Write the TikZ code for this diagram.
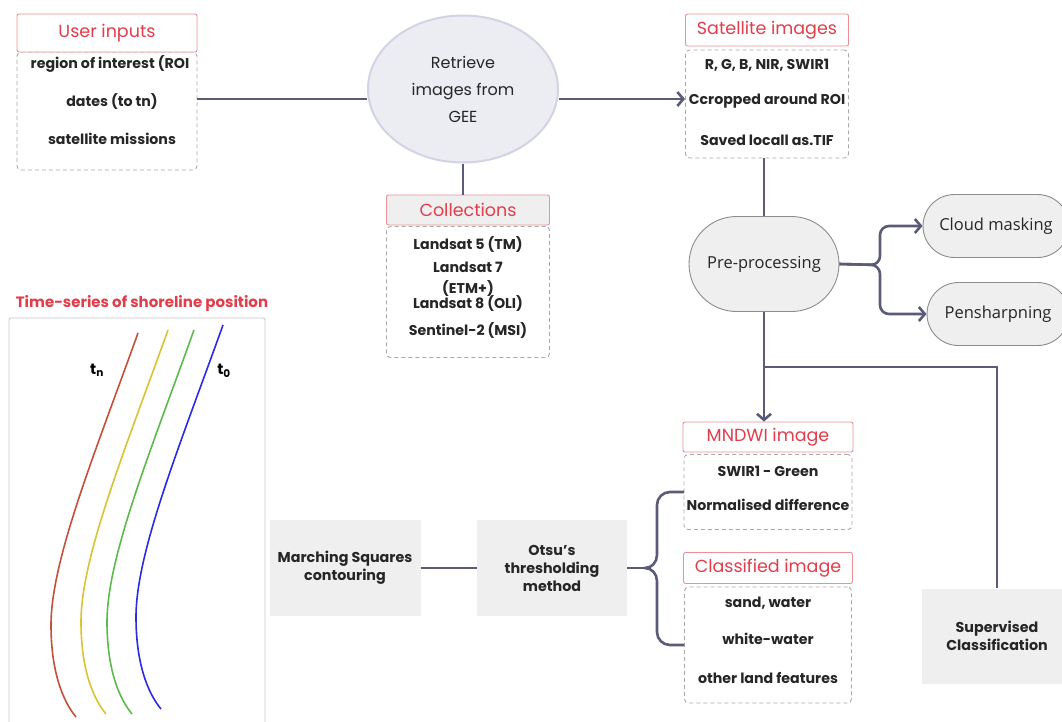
\documentclass[tikz,border=0pt]{standalone}
\usepackage{fontspec}
\setmainfont{Poppins}
\newfontfamily\pillfont{Open Sans}
\usetikzlibrary{calc, shapes, shapes.geometric, shapes.misc, positioning, arrows.meta}
\definecolor{headred}{HTML}{E23D4B}
\definecolor{headline}{HTML}{EC8F97}
\definecolor{flowgray}{HTML}{5B5B77}
\definecolor{inkdark}{HTML}{262626}
\definecolor{boxgray}{HTML}{EFEFEF}
\definecolor{dashgray}{HTML}{A8A8A8}
\definecolor{ovalfill}{HTML}{ECECF3}
\definecolor{ovaldraw}{HTML}{D3D3E3}
\definecolor{shred}{HTML}{C4503C}
\definecolor{shyellow}{HTML}{D9C233}
\definecolor{shgreen}{HTML}{5DB94B}
\definecolor{shblue}{HTML}{2B2BE3}
\tikzstyle{headbox}=[draw=headline, fill=white, rounded corners=2pt, text=headred, inner sep=0pt, line width=0.9pt, font=\fontsize{17.5}{20}\selectfont]
\tikzstyle{listbox}=[draw=dashgray, dash pattern=on 4pt off 3pt, rounded corners=4pt, inner sep=0pt, line width=0.9pt]
\tikzstyle{itemtext}=[text=inkdark, inner sep=0pt, font=\bfseries\fontsize{14.2}{16}\selectfont]
\tikzstyle{graybox}=[fill=boxgray, text=inkdark, align=center, inner sep=0pt, minimum width=151pt, minimum height=96pt, font=\bfseries\fontsize{14.3}{18}\selectfont]
\tikzstyle{pillbox}=[rounded rectangle, draw=gray!90, fill=boxgray, line width=0.9pt, inner sep=0pt, text=inkdark, font=\pillfont\fontsize{16.5}{19}\selectfont]
\tikzstyle{flow}=[draw=flowgray, line width=2.6pt]
\tikzstyle{openhead}=[-{Straight Barb[length=6pt, width=14pt]}]
\tikzstyle{shore}=[line width=1.6pt]

\begin{document}
\begin{tikzpicture}[x=1pt, y=-1pt]
\useasboundingbox (0,0) rectangle (1062,721);

% user inputs
\node[listbox, minimum width=180pt, minimum height=118pt] (uinlist) at (107,111) {};
\node[headbox, minimum width=180pt, minimum height=38pt] (uin) at (107,33) {User inputs};
\node[itemtext] (roi) at (110,64) {region of interest (ROI};
\node[itemtext] (dates) at (112,101) {dates (to tn)};
\node[itemtext] (missions) at (112,139) {satellite missions};

% GEE
\node[ellipse, draw=ovaldraw, line width=2pt, fill=ovalfill, minimum width=190pt, minimum height=147pt, align=center, text=inkdark, font=\fontsize{16}{27}\selectfont] (gee) at (463,89) {Retrieve\\images from\\GEE};

% satellite images
\node[listbox, minimum width=163pt, minimum height=108pt] (satlist) at (767,104) {};
\node[headbox, minimum width=163pt, minimum height=32pt] (sat) at (767,30) {Satellite images};
\node[itemtext] (bands) at (767,65) {R, G, B, NIR, SWIR1};
\node[itemtext] (crop) at (767,101) {Ccropped around ROI};
\node[itemtext] (saved) at (767,140) {Saved locall as.TIF};

% collections
\node[listbox, minimum width=163pt, minimum height=131pt] (colllist) at (468,292) {};
\node[headbox, fill=boxgray, minimum width=163pt, minimum height=30pt] (coll) at (468,210) {Collections};
\node[itemtext] (lfive) at (468,244) {Landsat 5 (TM)};
\node[itemtext] (lseven) at (468,267) {Landsat 7};
\node[itemtext] (etm) at (468,288) {(ETM+)};
\node[itemtext] (leight) at (468,303) {Landsat 8 (OLI)};
\node[itemtext] (stwo) at (468,330) {Sentinel-2 (MSI)};

% pre-processing
\node[pillbox, minimum width=150pt, minimum height=95pt] (pre) at (764,264) {Pre-processing};
\node[pillbox, minimum width=146pt, minimum height=63pt] (cloud) at (996,226) {Cloud masking};
\node[pillbox, minimum width=142pt, minimum height=63pt] (pan) at (998,314) {Pensharpning};
\coordinate (split) at (880,265);
\coordinate (fork) at (764,367);

% MNDWI and classified
\node[listbox, minimum width=168pt, minimum height=75pt] (mndwilist) at (768,492) {};
\node[headbox, minimum width=170pt, minimum height=30pt] (mndwi) at (768,437) {MNDWI image};
\node[itemtext] (swir) at (768,471) {SWIR1 - Green};
\node[itemtext] (normdiff) at (768,505) {Normalised difference};
\node[listbox, minimum width=167pt, minimum height=116pt] (classlist) at (768,645) {};
\node[headbox, minimum width=169pt, minimum height=31pt] (classed) at (768,568) {Classified image};
\node[itemtext] (sand) at (768,603) {sand, water};
\node[itemtext] (white) at (768,639) {white-water};
\node[itemtext] (land) at (768,678) {other land features};

% methods
\node[graybox] (march) at (345,568) {Marching Squares\\contouring};
\node[graybox, minimum width=150pt] (otsu) at (552,568) {Otsu’s\\thresholding\\method};
\node[graybox, minimum width=150pt, minimum height=95pt] (sup) at (997,636) {Supervised\\Classification};
\coordinate (tip) at (645,568);

% time series
\node[text=headred, inner sep=0pt, font=\bfseries\fontsize{15}{18}\selectfont] (tstitle) at (142,303) {Time-series of shoreline position};
\node[draw=gray!45, line width=0.8pt, rounded corners=2pt, minimum width=256pt, minimum height=412pt, inner sep=0pt] (panel) at (137,524) {};
\draw[shore, shred] (138,333) .. controls (95,453) and (51,560) .. (51,625) .. controls (51,670) and (62,700) .. (76,717);
\draw[shore, shyellow, shift={(30,-3)}] (138,333) .. controls (95,453) and (51,560) .. (51,625) .. controls (51,670) and (62,700) .. (76,717);
\draw[shore, shgreen, shift={(56,-3)}] (138,333) .. controls (95,453) and (51,560) .. (51,625) .. controls (51,670) and (62,700) .. (76,717);
\draw[shore, shblue, shift={(85,-8)}] (138,333) .. controls (95,453) and (51,560) .. (51,625) .. controls (51,670) and (62,700) .. (76,717);
\node[inner sep=0pt, font=\bfseries\fontsize{15}{17}\selectfont] (tn) at (97,370) {t\textsubscript{n}};
\node[inner sep=0pt, font=\bfseries\fontsize{15}{17}\selectfont] (tzero) at (224,371) {t\textsubscript{0}};

% connectors
\draw[flow] ([yshift=-10pt]gee.west) -- ([yshift=-10pt]gee.west -| uinlist.east);
\draw[flow, openhead] ([yshift=-10pt]gee.east) -- ([yshift=-10pt]gee.east -| satlist.west);
\draw[flow] (gee.south) -- (gee.south |- coll.north);
\draw[flow] (pre.north) -- (pre.north |- satlist.south);
\draw[flow, rounded corners=9pt, openhead] (pre.east) -- (split) |- (cloud.west);
\draw[flow, rounded corners=9pt, openhead] (pre.east) -- (split) |- (pan.west);
\draw[flow, openhead] (pre.south) -- (pre.south |- mndwi.north);
\draw[flow] (fork) -| (sup.north);
\draw[flow] (march.east) -- (otsu.west);
\draw[flow] (otsu.east) -- (tip);
\draw[flow] (684,492) -- (670,492) to[out=180,in=90] (657,505) -- (657,555) to[out=-90,in=0] (tip) to[out=0,in=90] (657,581) -- (657,632) to[out=-90,in=180] (670,645) -- (684,645);
\end{tikzpicture}
\end{document}
